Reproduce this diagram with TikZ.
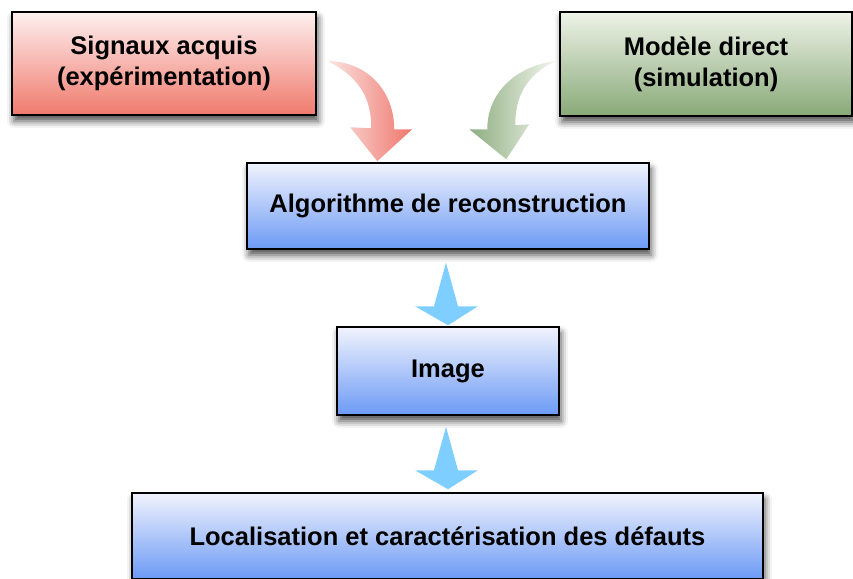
\documentclass[tikz,border=0pt]{standalone}
\usepackage{fontspec}
\setmainfont{Liberation Sans}
\usetikzlibrary{calc,shadows.blur}
\definecolor{redtop}{HTML}{FDF0F0}
\definecolor{redbot}{HTML}{F07A6C}
\definecolor{greentop}{HTML}{EEF3E8}
\definecolor{greenbot}{HTML}{88A978}
\definecolor{bluetop}{HTML}{F1F3FD}
\definecolor{bluebot}{HTML}{6C9AF5}
\definecolor{arrowblue}{HTML}{7ECFFF}
\definecolor{arrowredL}{HTML}{FBE4E2}
\definecolor{arrowredR}{HTML}{EF776D}
\definecolor{arrowgreenL}{HTML}{8DAD7F}
\definecolor{arrowgreenR}{HTML}{F4F7F0}
\tikzset{
  box/.style={draw=black, line width=1.5pt, rectangle, align=center,
    font=\fontsize{25.5}{31}\selectfont\bfseries, inner sep=0pt,
    blur shadow={shadow xshift=2pt, shadow yshift=-6pt, shadow blur radius=7pt, shadow opacity=70}},
  redbox/.style={box, top color=redtop, bottom color=redbot},
  greenbox/.style={box, top color=greentop, bottom color=greenbot},
  bluebox/.style={box, top color=bluetop, bottom color=bluebot},
  bluearrow/.style={fill=arrowblue},
}
\newcommand\fatdownarrow[2]{%
  \fill[bluearrow] let \p1=#1, \p2=#2 in
    (\x1,\y1) -- (\x2+10pt,\y2+19pt) -- (\x2+30pt,\y2+19pt) -- (\x2,\y2)
    -- (\x2-33pt,\y2+19pt) -- (\x2-14pt,\y2+19pt) -- cycle;}
\begin{document}
\begin{tikzpicture}[x=1pt,y=-1pt]
\useasboundingbox (0,0) rectangle (853,578);
% boxes
\node[redbox, minimum width=304pt, minimum height=103pt] (sig) at (164,63.5)
  {Signaux acquis\\(expérimentation)};
\node[greenbox, minimum width=292pt, minimum height=104pt] (mod) at (706,64)
  {Modèle direct\\(simulation)};
\node[bluebox, minimum width=402pt, minimum height=86pt] (algo) at (448,206)
  {Algorithme de reconstruction};
\node[bluebox, minimum width=222pt, minimum height=88pt] (img) at (448,371)
  {Image};
\node[bluebox, minimum width=631pt, minimum height=86pt] (loc) at (447.5,536)
  {Localisation et caractérisation des défauts};
% curved arrows
\coordinate (rT) at ($(sig.east)+(11,-2.5)$);
\coordinate (rP) at ($(algo.north west)+(131,-1)$);
\shade[left color=arrowredL, right color=arrowredR]
  (rT) .. controls ($(rT)+(43,1)$) and ($(rP)+(17,-67)$) .. ($(rP)+(17,-32)$)
  -- ($(rP)+(35,-32)$) -- (rP) -- ($(rP)+(-27,-34)$) -- ($(rP)+(-6,-33)$)
  .. controls ($(rP)+(-6,-62)$) and ($(rT)+(33,17)$) .. (rT) -- cycle;
\coordinate (gT) at ($(mod.west)+(-3,-3)$);
\coordinate (gP) at ($(algo.north west)+(260,-3)$);
\shade[left color=arrowgreenL, right color=arrowgreenR]
  (gT) .. controls ($(gT)+(-42,5)$) and ($(gP)+(-19,-65)$) .. ($(gP)+(-19,-30)$)
  -- ($(gP)+(-37,-30)$) -- (gP) -- ($(gP)+(23,-35)$) -- ($(gP)+(9,-34)$)
  .. controls ($(gP)+(9,-60)$) and ($(gT)+(-32,14)$) .. (gT) -- cycle;
% straight arrows
\coordinate (a1) at ($(algo.south)+(-2,13)$);
\coordinate (b1) at ($(img.north)+(0,-1)$);
\fatdownarrow{(a1)}{(b1)}
\coordinate (a2) at ($(img.south)+(-2,11)$);
\coordinate (b2) at ($(loc.north)+(0.5,-3)$);
\fatdownarrow{(a2)}{(b2)}
\end{tikzpicture}
\end{document}
